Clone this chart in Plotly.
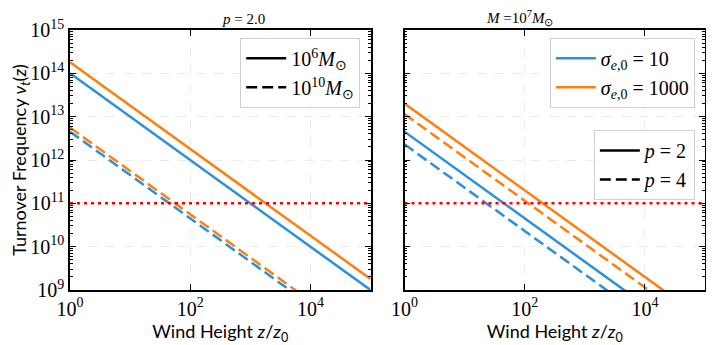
import plotly.graph_objects as go
from plotly.subplots import make_subplots

# wind height endpoints (z/z0)
z = [1, 1e5]

# left panel, p = 2.0 : turnover frequency at the two ends
nu_m6_s10 = [1.0e14, 1.0e9]
nu_m6_s1000 = [1.8e14, 1.8e9]
nu_m10_s10 = [4.5e12, 4.5e7]
nu_m10_s1000 = [5.6e12, 5.6e7]

# right panel, M = 1e7 Msun
nu_p2_s10 = [4.5e12, 4.5e7]
nu_p2_s1000 = [2.0e13, 2.0e8]
nu_p4_s10 = [2.3e12, 2.3e7]
nu_p4_s1000 = [1.15e13, 1.15e8]

nu_obs = [1e11, 1e11]

ytick_vals = [1e9, 1e10, 1e11, 1e12, 1e13, 1e14, 1e15]
ytick_text = ["10<sup>%d</sup>" % k for k in range(9, 16)]
xtick_vals = [1, 1e2, 1e4]
xtick_text = ["10<sup>0</sup>", "10<sup>2</sup>", "10<sup>4</sup>"]
yminor = [d * 10 ** k for k in range(9, 15) for d in range(2, 10)]

blue = "#2c8fdb"
orange = "#ff7f0e"
serif = "Liberation Serif"
sans = "Lato"

fig = make_subplots(rows=1, cols=2, horizontal_spacing=34/635)

def line(x, y, color, dash, name=None, legend=None, row=1, col=1):
    fig.add_trace(go.Scatter(x=x, y=y, mode="lines", name=name,
                             line=dict(color=color, width=2.5, dash=dash),
                             showlegend=legend is not None,
                             legend=legend or "legend"), row=row, col=col)

ds = "11px,5px"
dot = "3px,4px"

# left
line(z, nu_m6_s10, blue, "solid")
line(z, nu_m6_s1000, orange, "solid")
line(z, nu_m10_s10, blue, ds)
line(z, nu_m10_s1000, orange, ds)
line(z, nu_obs, "red", dot)
line([None], [None], "black", "solid", "10<sup>6</sup><i>M</i><sub>⊙</sub>", "legend")
line([None], [None], "black", ds, "10<sup>10</sup><i>M</i><sub>⊙</sub>", "legend")

# right
line(z, nu_p2_s10, blue, "solid", "<i>σ</i><sub><i>e</i>,0</sub> = 10", "legend2", col=2)
line(z, nu_p2_s1000, orange, "solid", "<i>σ</i><sub><i>e</i>,0</sub> = 1000", "legend2", col=2)
line(z, nu_p4_s10, blue, ds, row=1, col=2)
line(z, nu_p4_s1000, orange, ds, row=1, col=2)
line(z, nu_obs, "red", dot, row=1, col=2)
line([None], [None], "black", "solid", "<i>p</i> = 2", "legend3", col=2)
line([None], [None], "black", ds, "<i>p</i> = 4", "legend3", col=2)

axis_common = dict(type="log", showline=True, linecolor="black", linewidth=1.5,
                   mirror="allticks", ticks="inside", tickcolor="black",
                   tickwidth=1.2, ticklen=6, showgrid=True, gridcolor="#ebebeb",
                   griddash="dash", zeroline=False, automargin=False,
                   tickfont=dict(family=serif, size=20, color="black"))

for c in (1, 2):
    fig.update_xaxes(range=[0, 5], tickvals=xtick_vals, ticktext=xtick_text,
                     title=dict(text="Wind Height <i>z</i>/<i>z</i><sub>0</sub>",
                                font=dict(family=sans, size=18, color="black"),
                                standoff=0),
                     row=1, col=c, **axis_common)
    fig.update_yaxes(range=[9, 15], tickvals=ytick_vals,
                     ticktext=ytick_text if c == 1 else [""] * 7,
                     minor=dict(ticks="inside", ticklen=3, tickcolor="black",
                                tickvals=yminor, showgrid=False),
                     row=1, col=c, **axis_common)

fig.update_yaxes(title=dict(text="Turnover Frequency <i>ν</i><sub><i>t</i></sub>(<i>z</i>)",
                            font=dict(family=sans, size=18, color="black"),
                            standoff=0), row=1, col=1)

legend_common = dict(xanchor="right", yanchor="top", bgcolor="white",
                     bordercolor="#d0d0d0", borderwidth=1, itemwidth=40,
                     font=dict(family=serif, size=20, color="black"))

# page body adds an 8px offset, so shift margins to keep the plot area in place
fig.update_layout(
    width=714, height=345,
    margin=dict(l=62, r=17, t=22, b=63),
    plot_bgcolor="white", paper_bgcolor="white",
    legend=dict(x=0.457, y=0.97, **legend_common),
    legend2=dict(x=0.984, y=0.97, **legend_common),
    legend3=dict(x=0.984, y=0.615, **legend_common),
    annotations=[
        dict(text="<i>p</i> = 2.0", x=0.236, y=1.0, xref="paper", yref="paper",
             yanchor="bottom", showarrow=False, yshift=1,
             font=dict(family=serif, size=15, color="black")),
        dict(text="<i>M</i> =10<sup>7</sup><i>M</i><sub>⊙</sub>", x=0.763, y=1.0,
             xref="paper", yref="paper", yanchor="bottom", showarrow=False, yshift=0,
             font=dict(family=serif, size=15, color="black")),
    ],
)

fig.write_html("out.html")
